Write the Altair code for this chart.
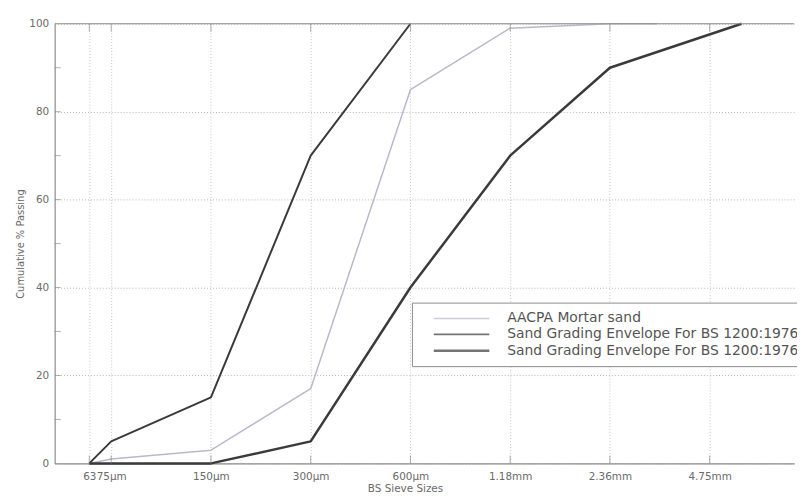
import altair as alt
import pandas as pd

# Series names (legend labels)
s_mortar = "AACPA Mortar sand"
s_upper = "\u00a0Sand Grading Envelope For BS 1200:1976"
s_lower = "Sand Grading Envelope For BS 1200:1976"

# Positions along the sieve axis (1 = 75um, 2 = 150um, ... 7 = 4.75mm)
mortar_x = [0.78, 1, 2, 3, 4, 5, 6, 6.47]
mortar_y = [0, 1, 3, 17, 85, 99, 100, 100]
upper_x = [0.78, 1, 2, 3, 4]
upper_y = [0, 5, 15, 70, 100]
lower_x = [0.78, 1, 2, 3, 4, 5, 6, 7.32]
lower_y = [0, 0, 0, 5, 40, 70, 90, 100]

tick_pos = [0.78, 1, 2, 3, 4, 5, 6, 7]
tick_labels = ["63", "75\u03bcm", "150\u03bcm", "300\u03bcm", "600\u03bcm", "1.18mm", "2.36mm", "4.75mm"]
y_ticks = [0, 20, 40, 60, 80, 100]
y_minor = [10, 20, 30, 40, 50, 60, 70, 80, 90]

rows = []
for name, xs, ys in [(s_mortar, mortar_x, mortar_y), (s_upper, upper_x, upper_y), (s_lower, lower_x, lower_y)]:
    for x, y in zip(xs, ys):
        rows.append({"series": name, "x": x, "y": y})
df = pd.DataFrame(rows)

label_expr = ""
for p, l in zip(tick_pos, tick_labels):
    label_expr += f"datum.value == {p} ? '{l}' : "
label_expr += "''"

names = [s_mortar, s_upper, s_lower]
font = "DejaVu Sans"

xscale = alt.Scale(domain=[0.433, 7.846], nice=False, zero=False)
yscale = alt.Scale(domain=[0, 100], nice=False)

lines = alt.Chart(df).mark_line(strokeJoin="round").encode(
    x=alt.X("x:Q", scale=xscale, title="BS Sieve Sizes",
            axis=alt.Axis(values=tick_pos, labelExpr=label_expr, grid=True, ticks=False,
                          gridColor="#c4c4c4", gridDash=[1, 2], gridWidth=1,
                          domainColor="#8c8c8c", domainWidth=1.2,
                          labelColor="#6a6a6a", labelFontSize=10.5, labelFont=font,
                          labelPadding=8, labelFlush=False,
                          titleColor="#6a6a6a", titleFontSize=10.5, titleFont=font,
                          titleFontWeight="normal", titlePadding=2, titleX=353)),
    y=alt.Y("y:Q", scale=yscale, title="Cumulative % Passing",
            axis=alt.Axis(values=y_ticks, grid=True, ticks=False,
                          gridColor="#b4b4b4", gridDash=[1, 2], gridWidth=1,
                          domainColor="#8c8c8c", domainWidth=1.2,
                          labelColor="#6a6a6a", labelFontSize=10.5, labelFont=font,
                          labelPadding=6,
                          titleColor="#6a6a6a", titleFontSize=10, titleFont=font,
                          titleFontWeight="normal", titlePadding=3)),
    color=alt.Color("series:N",
                    scale=alt.Scale(domain=names, range=["#b8b8cc", "#3a3a3a", "#3a3a3a"]),
                    sort=names,
                    legend=alt.Legend(title=None, orient="none", legendX=360, legendY=281,
                                      symbolType="M-4,0H4", symbolSize=196, symbolStrokeWidth=3,
                                      symbolOpacity=0.7, symbolOffset=33.5,
                                      labelOffset=37.5, labelFontSize=14, labelFont=font,
                                      labelColor="#555555", labelLimit=500, rowPadding=1,
                                      padding=8, strokeColor="#8c8c8c", fillColor="white")),
    strokeWidth=alt.StrokeWidth("series:N",
                                scale=alt.Scale(domain=names, range=[1.5, 2.5, 2.5]),
                                legend=None),
)

top_border = alt.Chart(pd.DataFrame({"y": [100]})).mark_rule(color="#8c8c8c", strokeWidth=1.2).encode(
    y=alt.Y("y:Q", scale=yscale)
)

tick_df = pd.DataFrame({"x": tick_pos})
top_ticks = alt.Chart(tick_df).mark_tick(color="#8c8c8c", size=8, thickness=1, yOffset=4).encode(
    x=alt.X("x:Q", scale=xscale), y=alt.datum(100, scale=yscale)
)
bottom_ticks = alt.Chart(tick_df).mark_tick(color="#8c8c8c", size=8, thickness=1, yOffset=-4).encode(
    x=alt.X("x:Q", scale=xscale), y=alt.datum(0, scale=yscale)
)
left_ticks = alt.Chart(pd.DataFrame({"y": y_minor})).mark_tick(
    color="#8c8c8c", size=6, thickness=1, xOffset=3, orient="horizontal").encode(
    y=alt.Y("y:Q", scale=yscale), x=alt.datum(0.433, scale=xscale)
)

chart = alt.layer(lines, top_border, top_ticks, bottom_ticks, left_ticks).properties(
    width=745, height=443,
    padding={"left": 47, "top": 14, "right": 3, "bottom": 32},
    autosize=alt.AutoSizeParams(type="none"),
    background="white",
).configure_view(stroke=None)

chart.save("out.html", embed_options={"renderer": "svg", "actions": False})
